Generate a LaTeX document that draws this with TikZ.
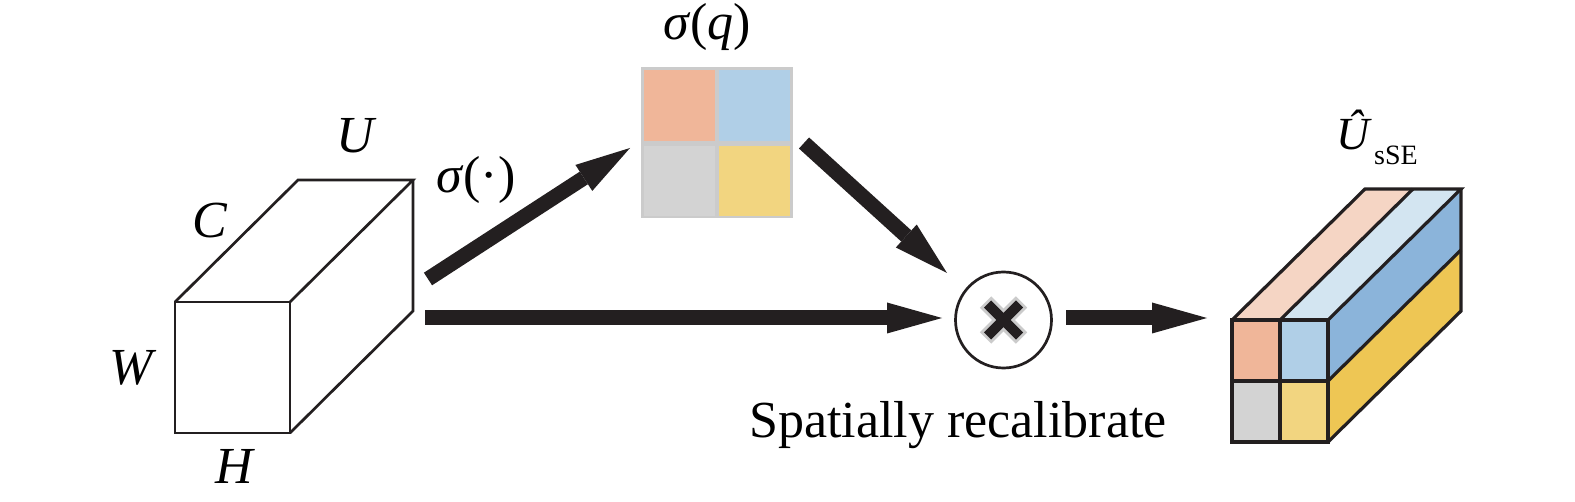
\documentclass[tikz,border=0pt]{standalone}
\usepackage{fontspec}
\setmainfont{Liberation Serif}
\usetikzlibrary{arrows.meta,calc}
\definecolor{orF}{HTML}{F0B699}
\definecolor{blF}{HTML}{B0CFE7}
\definecolor{grF}{HTML}{D3D3D3}
\definecolor{yeF}{HTML}{F2D580}
\definecolor{orT}{HTML}{F5D5C4}
\definecolor{blT}{HTML}{D3E5F1}
\definecolor{blS}{HTML}{8BB4DA}
\definecolor{yeS}{HTML}{EEC654}
\definecolor{grB}{HTML}{CBCBCB}
\definecolor{ink}{HTML}{231F20}
\tikzset{
  lbl/.style={inner sep=0pt, anchor=base, font=\fontsize{52}{62}\selectfont},
  fatarrow/.style={draw=ink, line width=15pt, -{Triangle[length=55pt,width=31pt,line width=0pt]}},
  cubeline/.style={draw=ink, line width=2.7pt},
  blockline/.style={draw=ink, line width=3.2pt},
}
\begin{document}
\begin{tikzpicture}[x=1pt,y=-1pt]
\useasboundingbox (0,0) rectangle (1575,502);
% left cube
\coordinate (fa) at (175,302);
\coordinate (fb) at (290,302);
\coordinate (fc) at (290,433);
\coordinate (fd) at (175,433);
\coordinate (ba) at (298,180);
\coordinate (bb) at (413,180);
\coordinate (bc) at (413,311);
\draw[cubeline] (fa) rectangle (fc);
\draw[cubeline] (fa) -- (ba) -- (bb) -- (fb);
\draw[cubeline] (bb) -- (bc) -- (fc);
\node[lbl] (lu) at (357,153) {\textit{U}};
\node[lbl] (lc) at (210,238) {\textit{C}};
\node[lbl] (lw) at (133,385) {\textit{W}};
\node[lbl] (lh) at (235,484) {\textit{H}};
% sigma(q) grid
\fill[grB] (641,67) rectangle (793,218);
\fill[orF] (644,70) rectangle (715,141);
\fill[blF] (719,70) rectangle (790,141);
\fill[grF] (644,146) rectangle (715,216);
\fill[yeF] (719,146) rectangle (790,216);
\node[lbl] (lsq) at (707,40) {\textit{σ}(\textit{q\/})};
\node[lbl] (lsd) at (476,193) {\textit{σ}(·)};
% multiply
\node[draw=ink, line width=2.7pt, circle, minimum size=96pt, inner sep=0pt] (mul) at (1003.5,320) {};
\draw[grB, line width=16pt] ($(mul.center)+(-18,-18)$) -- ($(mul.center)+(18,18)$);
\draw[grB, line width=16pt] ($(mul.center)+(-18,18)$) -- ($(mul.center)+(18,-18)$);
\draw[ink, line width=10pt] ($(mul.center)+(-16,-16)$) -- ($(mul.center)+(16,16)$);
\draw[ink, line width=10pt] ($(mul.center)+(-16,16)$) -- ($(mul.center)+(16,-16)$);
\node[lbl] (lsr) at (958,438) {Spatially recalibrate};
% arrows
\coordinate (a1s) at (428,279);
\coordinate (a1e) at (630,148);
\coordinate (a2s) at (804,143);
\coordinate (a2e) at (947,273);
\coordinate (a3s) at (425,318);
\coordinate (a3e) at (942,318);
\coordinate (a4s) at (1066,318);
\coordinate (a4e) at (1207,318);
\draw[fatarrow] (a1s) -- (a1e);
\draw[fatarrow] (a2s) -- (a2e);
\draw[fatarrow] (a3s) -- (a3e);
\draw[fatarrow] (a4s) -- (a4e);
% right block
\fill[orT] (1232,320) -- (1280,320) -- (1413,189) -- (1365,189) -- cycle;
\fill[blT] (1280,320) -- (1328,320) -- (1461,189) -- (1413,189) -- cycle;
\fill[blS] (1328,320) -- (1461,189) -- (1461,250) -- (1328,381) -- cycle;
\fill[yeS] (1328,381) -- (1461,250) -- (1461,311) -- (1328,442) -- cycle;
\fill[orF] (1232,320) rectangle (1280,381);
\fill[blF] (1280,320) rectangle (1328,381);
\fill[grF] (1232,381) rectangle (1280,442);
\fill[yeF] (1280,381) rectangle (1328,442);
\draw[blockline] (1232,320) rectangle (1328,442);
\draw[blockline] (1280,320) -- (1280,442);
\draw[blockline] (1232,381) -- (1328,381);
\draw[blockline] (1232,320) -- (1365,189) -- (1461,189) -- (1328,320);
\draw[blockline] (1280,320) -- (1413,189);
\draw[blockline] (1461,189) -- (1461,311) -- (1328,442);
\draw[blockline] (1328,381) -- (1461,250);
\node[lbl, anchor=base west, font=\fontsize{46}{54}\selectfont] (lhu) at (1336,150) {\textit{Û}};
\node[lbl, anchor=base west, font=\fontsize{28}{32}\selectfont] (lsse) at (1374,165) {sSE};
\end{tikzpicture}
\end{document}
